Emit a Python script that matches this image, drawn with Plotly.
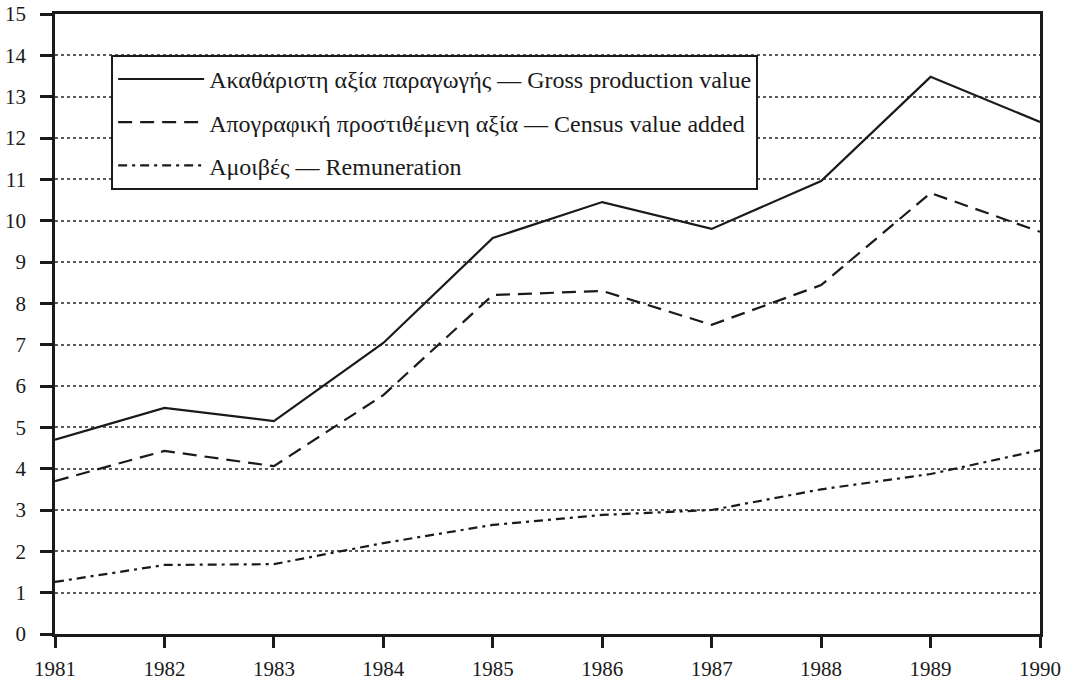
import plotly.graph_objects as go

years = [1981, 1982, 1983, 1984, 1985, 1986, 1987, 1988, 1989, 1990]
gross = [4.7, 5.47, 5.15, 7.04, 9.58, 10.45, 9.8, 10.96, 13.48, 12.39]
census = [3.7, 4.43, 4.06, 5.78, 8.2, 8.3, 7.48, 8.44, 10.67, 9.73]
remun = [1.26, 1.67, 1.69, 2.2, 2.64, 2.88, 3.0, 3.5, 3.87, 4.45]
names = [
    "Ακαθάριστη αξία παραγωγής — Gross production value",
    "Απογραφική προστιθέμενη αξία — Census value added",
    "Αμοιβές — Remuneration",
]
yticks = list(range(0, 16))
ylabels = [str(v) for v in yticks]
xlabels = [str(y) for y in years]

fig = go.Figure()
series = [(gross, "solid"), (census, "14px,8px"), (remun, "9px,5px,3px,5px")]
for i, (vals, dash) in enumerate(series):
    fig.add_trace(go.Scatter(
        x=years, y=vals, mode="lines", name=names[i], legendgroup=f"g{i}",
        line=dict(color="#1a1a1a", width=2.2, dash=dash),
    ))

ff = "Liberation Serif"
fig.update_layout(
    width=1070, height=685,
    margin=dict(l=55, r=30, t=14, b=51),
    paper_bgcolor="white", plot_bgcolor="white",
    font=dict(family=ff, size=21, color="#1a1a1a"),
    showlegend=True,
    legend=dict(
        x=0.057, y=0.934, xanchor="left", yanchor="top",
        bgcolor="white", bordercolor="#1a1a1a", borderwidth=2,
        font=dict(family=ff, size=24, color="#1a1a1a"),
        tracegroupgap=9, itemwidth=86,
    ),
    xaxis=dict(
        range=[1981, 1990], tickmode="array", tickvals=years, ticktext=xlabels,
        tickfont=dict(family=ff, size=21),
        showgrid=False, showline=True, linecolor="#1a1a1a", linewidth=2.5, mirror=True,
        ticks="outside", ticklen=11, tickwidth=2.5, tickcolor="#1a1a1a", zeroline=False,
        automargin=False, ticklabelstandoff=3,
    ),
    yaxis=dict(
        range=[0, 15], tickmode="array", tickvals=yticks, ticktext=ylabels,
        tickfont=dict(family=ff, size=21),
        showgrid=True, gridcolor="#5a5a5a", gridwidth=1.8, griddash="dot",
        showline=True, linecolor="#1a1a1a", linewidth=2.5, mirror=True,
        ticks="outside", ticklen=12, tickwidth=2.5, tickcolor="#1a1a1a", zeroline=False,
        automargin=False, ticklabelstandoff=10,
    ),
)
fig.write_html("out.html", config={"displayModeBar": False},
               post_script="document.body.style.margin='0';")
